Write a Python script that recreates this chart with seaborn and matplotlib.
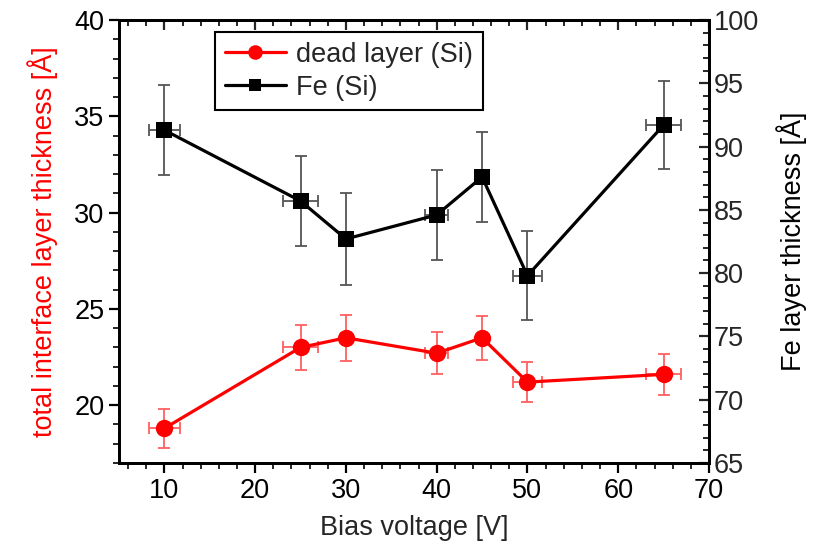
import matplotlib
matplotlib.use("Agg")
import matplotlib.pyplot as plt
from matplotlib.ticker import MultipleLocator
from matplotlib.lines import Line2D
import seaborn as sns
import pandas as pd

# Bias voltage series and measured thicknesses
bias_v = [10, 25, 30, 40, 45, 50, 65]
bias_err = [1.7, 1.9, 0.5, 1.3, 0.5, 1.6, 1.9]
dead_layer = [18.8, 23.0, 23.5, 22.7, 23.5, 21.2, 21.6]
dead_err = [1.0, 1.15, 1.2, 1.1, 1.15, 1.05, 1.05]
fe_thick = [91.3, 85.7, 82.7, 84.6, 87.6, 79.8, 91.7]
fe_err = [3.55, 3.55, 3.6, 3.55, 3.55, 3.5, 3.45]

df = pd.DataFrame({"V": bias_v, "dead": dead_layer, "fe": fe_thick})

sns.set_theme(style="ticks")
plt.rcParams["font.family"] = ["Liberation Sans", "DejaVu Sans"]
FS = 19.5

fig = plt.figure(figsize=(8.21, 5.52), dpi=100)
ax = fig.add_axes([119 / 821, 1 - 463 / 552, 590 / 821, 443 / 552])
ax2 = ax.twinx()

# dead layer (left axis)
ax.errorbar(bias_v, dead_layer, yerr=dead_err, xerr=bias_err, fmt="none",
            ecolor="#ff6060", elinewidth=1.3, capsize=4, capthick=1.3, zorder=2)
sns.lineplot(data=df, x="V", y="dead", ax=ax, color="red", linewidth=2.3,
             marker="o", markersize=12.5, markeredgewidth=0, sort=False, zorder=3)

# Fe layer (right axis)
ax2.errorbar(bias_v, fe_thick, yerr=fe_err, xerr=bias_err, fmt="none",
             ecolor="#555555", elinewidth=1.3, capsize=4, capthick=1.3, zorder=2)
sns.lineplot(data=df, x="V", y="fe", ax=ax2, color="black", linewidth=2.3,
             marker="s", markersize=12, markeredgewidth=0, sort=False, zorder=3)

ax.set_xticks(range(10, 71, 10))
ax.set_xlim(5, 70)
ax.set_ylim(17, 40)
ax2.set_ylim(65, 100)

ax.xaxis.set_minor_locator(MultipleLocator(2))
ax.yaxis.set_major_locator(MultipleLocator(5))
ax.yaxis.set_minor_locator(MultipleLocator(1))
ax2.yaxis.set_major_locator(MultipleLocator(5))
ax2.yaxis.set_minor_locator(MultipleLocator(1))

ax.tick_params(axis="both", which="major", direction="out", length=7, width=1.6,
               labelsize=FS, colors="black")
ax.tick_params(axis="both", which="minor", direction="out", length=4, width=1.4)
ax2.tick_params(axis="y", which="major", direction="in", length=7, width=1.6,
                labelsize=FS)
ax2.tick_params(axis="y", which="minor", direction="in", length=4, width=1.4)

# mirrored ticks along the top edge, pointing inward
top = ax.secondary_xaxis("top")
top.xaxis.set_major_locator(MultipleLocator(10))
top.xaxis.set_minor_locator(MultipleLocator(2))
top.tick_params(axis="x", which="major", direction="in", length=7, width=1.6,
                labeltop=False)
top.tick_params(axis="x", which="minor", direction="in", length=4, width=1.4)
top.spines["top"].set_linewidth(2)

for a in (ax, ax2):
    for s in a.spines.values():
        s.set_linewidth(2)
        s.set_color("black")

ax.set_xlabel("Bias voltage [V]", fontsize=FS, labelpad=8)
ax.set_ylabel("total interface layer thickness [Å]", fontsize=FS, color="red",
              labelpad=12)
ax2.set_ylabel("Fe layer thickness [Å]", fontsize=FS, color="black", labelpad=12)

handles = [
    Line2D([], [], color="red", linewidth=2.3, marker="o", markersize=10.5,
           markeredgewidth=0),
    Line2D([], [], color="black", linewidth=2.3, marker="s", markersize=8,
           markeredgewidth=0),
]
leg = ax2.legend(handles, ["dead layer (Si)", "Fe (Si)"], loc="upper left",
                 bbox_to_anchor=(0.163, 0.972), fontsize=FS, frameon=True,
                 fancybox=False, edgecolor="black", framealpha=1,
                 handlelength=2.25, handletextpad=0.4, borderpad=0.35,
                 labelspacing=0.25, borderaxespad=0)
leg.get_frame().set_linewidth(1.5)

fig.savefig("out.png", dpi=100)
